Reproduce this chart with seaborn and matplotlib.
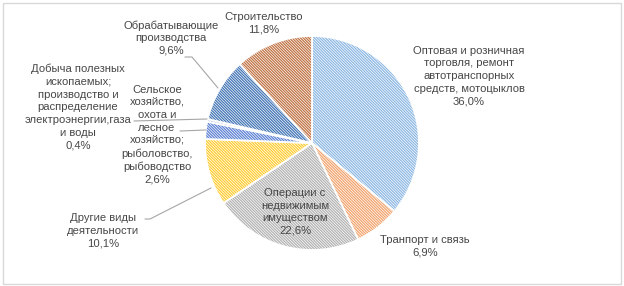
import matplotlib
matplotlib.use("Agg")
import matplotlib.pyplot as plt
import seaborn as sns
from matplotlib.lines import Line2D
from matplotlib.patches import Rectangle

# ---- data ----
categories = [
    "Оптовая и розничная\nторговля, ремонт\nавтотранспорных\nсредств, мотоцыклов",
    "Транпорт и связь",
    "Операции с\nнедвижимым\nимуществом",
    "Другие виды\nдеятельности",
    "Сельское\nхозяйство,\nохота и\nлесное\nхозяйство;\nрыболовство,\nрыбоводство",
    "Добыча полезных\nископаемых;\nпроизводство и\nраспределение\nэлектроэнергии,газа\nи воды",
    "Обрабатывающие\nпроизводства",
    "Строительство",
]
shares = [36.0, 6.9, 22.6, 10.1, 2.6, 0.4, 9.6, 11.8]
value_labels = ["36,0%", "6,9%", "22,6%", "10,1%", "2,6%", "0,4%", "9,6%", "11,8%"]

colors = ["#8DB8E3", "#F2A46E", "#B3B3B3", "#FFCC33", "#5F82D4", "#A0B6DC", "#4375B6", "#C07344"]

sns.set_theme(style="white")
plt.rcParams["font.family"] = ["Liberation Sans", "DejaVu Sans"]
plt.rcParams["hatch.linewidth"] = 0.5

W, H = 624, 286
fig = plt.figure(figsize=(W / 100, H / 100), dpi=100)
fig.patch.set_facecolor("white")

def fx(x):
    return x / W

def fy(y):
    return 1 - y / H

# outer border
fig.add_artist(Rectangle((fx(3), fy(284)), fx(618), 281 / H, transform=fig.transFigure,
                         fill=False, edgecolor="#D9D9D9", linewidth=1.0))

# pie axes: center (312,143), radius 107 px
cx, cy, r = 312, 143, 107
ax = fig.add_axes([fx(cx - r), fy(cy + r), 2 * r / W, 2 * r / H])
wedges, _ = ax.pie(shares, colors=colors, startangle=90, counterclock=False,
                   wedgeprops=dict(edgecolor="white", linewidth=1.3))
for w in wedges:
    w.set_hatch("\\" * 12)
ax.set_xlim(-1, 1)
ax.set_ylim(-1, 1)
ax.axis("off")

# labels (pixel centers)
label_pos = [(469, 76), (425, 246), (295, 212), (103, 231), (157, 135), (78, 107), (171, 38), (264, 23)]
for cat, vl, (x, y) in zip(categories, value_labels, label_pos):
    fig.text(fx(x), fy(y), cat + "\n" + vl, ha="center", va="center",
             fontsize=8.1, color="#474747", linespacing=1.33)

# leader lines
leaders = [
    [(185, 57), (192, 57), (218, 88)],
    [(134, 121), (207, 119)],
    [(180, 131), (206, 130)],
    [(145, 219), (150, 219), (211, 188)],
]
for pts in leaders:
    xs = [fx(p[0]) for p in pts]
    ys = [fy(p[1]) for p in pts]
    fig.add_artist(Line2D(xs, ys, transform=fig.transFigure, color="#A6A6A6", linewidth=0.8))

fig.savefig("out.png", dpi=100)
